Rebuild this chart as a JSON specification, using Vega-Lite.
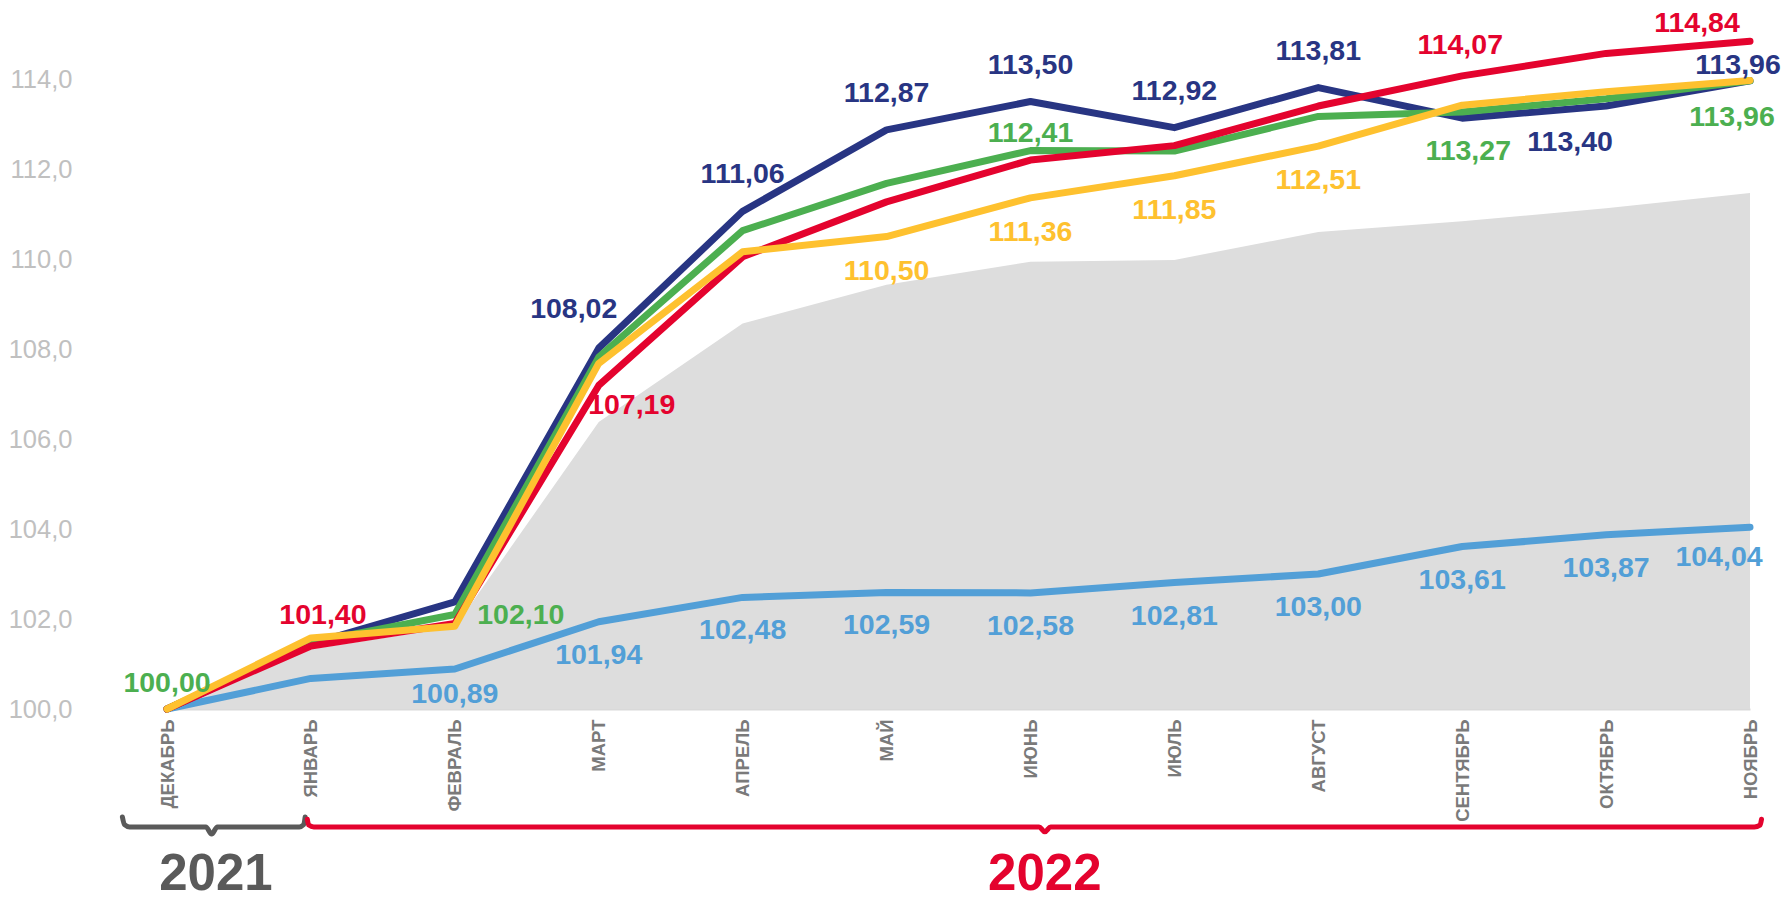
{
  "$schema": "https://vega.github.io/schema/vega-lite/v6.json",
  "width": 1688,
  "height": 697,
  "autosize": {"type": "none"},
  "padding": {"left": 97, "top": 12, "right": 0, "bottom": 194},
  "background": "white",
  "config": {"view": {"stroke": null}, "font": "Liberation Sans"},
  "datasets": {
    "vals": [
      {"month": "ДЕКАБРЬ", "series": "A", "value": 100.00},
      {"month": "ЯНВАРЬ", "series": "A", "value": 101.45},
      {"month": "ФЕВРАЛЬ", "series": "A", "value": 102.38},
      {"month": "МАРТ", "series": "A", "value": 108.02},
      {"month": "АПРЕЛЬ", "series": "A", "value": 111.06},
      {"month": "МАЙ", "series": "A", "value": 112.87},
      {"month": "ИЮНЬ", "series": "A", "value": 113.50},
      {"month": "ИЮЛЬ", "series": "A", "value": 112.92},
      {"month": "АВГУСТ", "series": "A", "value": 113.81},
      {"month": "СЕНТЯБРЬ", "series": "A", "value": 113.13},
      {"month": "ОКТЯБРЬ", "series": "A", "value": 113.40},
      {"month": "НОЯБРЬ", "series": "A", "value": 113.96},
      {"month": "ДЕКАБРЬ", "series": "B", "value": 100.00},
      {"month": "ЯНВАРЬ", "series": "B", "value": 101.48},
      {"month": "ФЕВРАЛЬ", "series": "B", "value": 102.10},
      {"month": "МАРТ", "series": "B", "value": 107.82},
      {"month": "АПРЕЛЬ", "series": "B", "value": 110.63},
      {"month": "МАЙ", "series": "B", "value": 111.68},
      {"month": "ИЮНЬ", "series": "B", "value": 112.41},
      {"month": "ИЮЛЬ", "series": "B", "value": 112.40},
      {"month": "АВГУСТ", "series": "B", "value": 113.17},
      {"month": "СЕНТЯБРЬ", "series": "B", "value": 113.27},
      {"month": "ОКТЯБРЬ", "series": "B", "value": 113.56},
      {"month": "НОЯБРЬ", "series": "B", "value": 113.96},
      {"month": "ДЕКАБРЬ", "series": "C", "value": 100.00},
      {"month": "ЯНВАРЬ", "series": "C", "value": 101.40},
      {"month": "ФЕВРАЛЬ", "series": "C", "value": 101.90},
      {"month": "МАРТ", "series": "C", "value": 107.19},
      {"month": "АПРЕЛЬ", "series": "C", "value": 110.05},
      {"month": "МАЙ", "series": "C", "value": 111.27},
      {"month": "ИЮНЬ", "series": "C", "value": 112.20},
      {"month": "ИЮЛЬ", "series": "C", "value": 112.52},
      {"month": "АВГУСТ", "series": "C", "value": 113.40},
      {"month": "СЕНТЯБРЬ", "series": "C", "value": 114.07},
      {"month": "ОКТЯБРЬ", "series": "C", "value": 114.57},
      {"month": "НОЯБРЬ", "series": "C", "value": 114.84},
      {"month": "ДЕКАБРЬ", "series": "D", "value": 100.00},
      {"month": "ЯНВАРЬ", "series": "D", "value": 101.58},
      {"month": "ФЕВРАЛЬ", "series": "D", "value": 101.84},
      {"month": "МАРТ", "series": "D", "value": 107.68},
      {"month": "АПРЕЛЬ", "series": "D", "value": 110.16},
      {"month": "МАЙ", "series": "D", "value": 110.50},
      {"month": "ИЮНЬ", "series": "D", "value": 111.36},
      {"month": "ИЮЛЬ", "series": "D", "value": 111.85},
      {"month": "АВГУСТ", "series": "D", "value": 112.51},
      {"month": "СЕНТЯБРЬ", "series": "D", "value": 113.42},
      {"month": "ОКТЯБРЬ", "series": "D", "value": 113.72},
      {"month": "НОЯБРЬ", "series": "D", "value": 113.97},
      {"month": "ДЕКАБРЬ", "series": "E", "value": 100.00},
      {"month": "ЯНВАРЬ", "series": "E", "value": 100.68},
      {"month": "ФЕВРАЛЬ", "series": "E", "value": 100.89},
      {"month": "МАРТ", "series": "E", "value": 101.94},
      {"month": "АПРЕЛЬ", "series": "E", "value": 102.48},
      {"month": "МАЙ", "series": "E", "value": 102.59},
      {"month": "ИЮНЬ", "series": "E", "value": 102.58},
      {"month": "ИЮЛЬ", "series": "E", "value": 102.81},
      {"month": "АВГУСТ", "series": "E", "value": 103.00},
      {"month": "СЕНТЯБРЬ", "series": "E", "value": 103.61},
      {"month": "ОКТЯБРЬ", "series": "E", "value": 103.87},
      {"month": "НОЯБРЬ", "series": "E", "value": 104.04},
      {"month": "ДЕКАБРЬ", "series": "F", "value": 100.00},
      {"month": "ЯНВАРЬ", "series": "F", "value": 101.33},
      {"month": "ФЕВРАЛЬ", "series": "F", "value": 101.82},
      {"month": "МАРТ", "series": "F", "value": 106.38},
      {"month": "АПРЕЛЬ", "series": "F", "value": 108.57},
      {"month": "МАЙ", "series": "F", "value": 109.43},
      {"month": "ИЮНЬ", "series": "F", "value": 109.94},
      {"month": "ИЮЛЬ", "series": "F", "value": 109.98},
      {"month": "АВГУСТ", "series": "F", "value": 110.60},
      {"month": "СЕНТЯБРЬ", "series": "F", "value": 110.84},
      {"month": "ОКТЯБРЬ", "series": "F", "value": 111.13},
      {"month": "НОЯБРЬ", "series": "F", "value": 111.47}
    ],
    "braces": [
      {"year": "2021", "ord": 1, "t": -0.31, "v": 97.60},
      {"year": "2021", "ord": 2, "t": -0.295, "v": 97.43},
      {"year": "2021", "ord": 3, "t": -0.26, "v": 97.38},
      {"year": "2021", "ord": 4, "t": 0.27, "v": 97.38},
      {"year": "2021", "ord": 5, "t": 0.31, "v": 97.22},
      {"year": "2021", "ord": 6, "t": 0.35, "v": 97.38},
      {"year": "2021", "ord": 7, "t": 0.92, "v": 97.38},
      {"year": "2021", "ord": 8, "t": 0.95, "v": 97.43},
      {"year": "2021", "ord": 9, "t": 0.96, "v": 97.60},
      {"year": "2022", "ord": 1, "t": 0.975, "v": 97.55},
      {"year": "2022", "ord": 2, "t": 0.985, "v": 97.42},
      {"year": "2022", "ord": 3, "t": 1.02, "v": 97.38},
      {"year": "2022", "ord": 4, "t": 6.06, "v": 97.38},
      {"year": "2022", "ord": 5, "t": 6.10, "v": 97.27},
      {"year": "2022", "ord": 6, "t": 6.14, "v": 97.38},
      {"year": "2022", "ord": 7, "t": 11.03, "v": 97.38},
      {"year": "2022", "ord": 8, "t": 11.07, "v": 97.42},
      {"year": "2022", "ord": 9, "t": 11.08, "v": 97.55}
    ],
    "years": [
      {"year": "2021", "t": 0.34, "v": 96.3},
      {"year": "2022", "t": 6.10, "v": 96.3}
    ]
  },
  "layer": [
    {
      "data": {"name": "vals"},
      "encoding": {
        "x": {
          "field": "month", "type": "ordinal",
          "scale": {"type": "point", "padding": 0, "domain": ["ДЕКАБРЬ","ЯНВАРЬ","ФЕВРАЛЬ","МАРТ","АПРЕЛЬ","МАЙ","ИЮНЬ","ИЮЛЬ","АВГУСТ","СЕНТЯБРЬ","ОКТЯБРЬ","НОЯБРЬ"], "range": [70, 1653]},
          "axis": {"title": null, "labelAngle": -90, "labelFont": "Liberation Sans", "labelFontWeight": "bold", "labelFontSize": 18.5, "labelColor": "#7a7a7a", "ticks": false, "domain": true, "domainColor": "#d9d9d9", "domainWidth": 2, "labelPadding": 10, "grid": false}
        },
        "y": {
          "field": "value", "type": "quantitative",
          "scale": {"domain": [100, 115.49], "nice": false, "zero": false},
          "axis": {"title": null, "values": [100,102,104,106,108,110,112,114], "labelExpr": "replace(format(datum.value, '.1f'), '.', ',')", "labelFont": "Liberation Sans", "labelFontSize": 25.5, "labelColor": "#c0c0c0", "grid": false, "ticks": false, "domain": false, "labelPadding": 25}
        }
      },
      "layer": [
        {"transform": [{"filter": "datum.series == 'F'"}], "mark": {"type": "area", "color": "#dddddd"}, "encoding": {"y2": {"datum": 100}}},
        {"transform": [{"filter": "datum.series == 'E'"}], "mark": {"type": "line", "color": "#529fd7", "strokeWidth": 7, "strokeCap": "round", "strokeJoin": "round"}},
        {"transform": [{"filter": "datum.series == 'A'"}], "mark": {"type": "line", "color": "#283583", "strokeWidth": 7, "strokeCap": "round", "strokeJoin": "round"}},
        {"transform": [{"filter": "datum.series == 'B'"}], "mark": {"type": "line", "color": "#4caf50", "strokeWidth": 7, "strokeCap": "round", "strokeJoin": "round"}},
        {"transform": [{"filter": "datum.series == 'C'"}], "mark": {"type": "line", "color": "#e4032e", "strokeWidth": 7, "strokeCap": "round", "strokeJoin": "round"}},
        {"transform": [{"filter": "datum.series == 'D'"}], "mark": {"type": "line", "color": "#fec12f", "strokeWidth": 7, "strokeCap": "round", "strokeJoin": "round"}},
        {"transform": [{"filter": "datum.series == 'A' && indexof(['АПРЕЛЬ','МАЙ','ИЮНЬ','ИЮЛЬ','АВГУСТ'], datum.month) >= 0"}, {"calculate": "replace(format(datum.value, '.2f'), '.', ',')", "as": "lbl"}],
         "mark": {"type": "text", "font": "Liberation Sans", "fontWeight": "bold", "fontSize": 28.5, "color": "#283583", "baseline": "middle", "dy": -37}, "encoding": {"text": {"field": "lbl"}}},
        {"transform": [{"filter": "datum.series == 'A' && datum.month == 'МАРТ'"}, {"calculate": "replace(format(datum.value, '.2f'), '.', ',')", "as": "lbl"}],
         "mark": {"type": "text", "font": "Liberation Sans", "fontWeight": "bold", "fontSize": 28.5, "color": "#283583", "baseline": "middle", "dx": -25, "dy": -39}, "encoding": {"text": {"field": "lbl"}}},
        {"transform": [{"filter": "datum.series == 'A' && datum.month == 'ОКТЯБРЬ'"}, {"calculate": "replace(format(datum.value, '.2f'), '.', ',')", "as": "lbl"}],
         "mark": {"type": "text", "font": "Liberation Sans", "fontWeight": "bold", "fontSize": 28.5, "color": "#283583", "baseline": "middle", "dx": -36, "dy": 36}, "encoding": {"text": {"field": "lbl"}}},
        {"transform": [{"filter": "datum.series == 'A' && datum.month == 'НОЯБРЬ'"}, {"calculate": "replace(format(datum.value, '.2f'), '.', ',')", "as": "lbl"}],
         "mark": {"type": "text", "font": "Liberation Sans", "fontWeight": "bold", "fontSize": 28.5, "color": "#283583", "baseline": "middle", "dx": -12, "dy": -16}, "encoding": {"text": {"field": "lbl"}}},
        {"transform": [{"filter": "datum.series == 'B' && datum.month == 'ДЕКАБРЬ'"}, {"calculate": "replace(format(datum.value, '.2f'), '.', ',')", "as": "lbl"}],
         "mark": {"type": "text", "font": "Liberation Sans", "fontWeight": "bold", "fontSize": 28.5, "color": "#4caf50", "baseline": "middle", "dy": -26}, "encoding": {"text": {"field": "lbl"}}},
        {"transform": [{"filter": "datum.series == 'B' && datum.month == 'ФЕВРАЛЬ'"}, {"calculate": "replace(format(datum.value, '.2f'), '.', ',')", "as": "lbl"}],
         "mark": {"type": "text", "font": "Liberation Sans", "fontWeight": "bold", "fontSize": 28.5, "color": "#4caf50", "baseline": "middle", "dx": 66, "dy": 0}, "encoding": {"text": {"field": "lbl"}}},
        {"transform": [{"filter": "datum.series == 'B' && datum.month == 'ИЮНЬ'"}, {"calculate": "replace(format(datum.value, '.2f'), '.', ',')", "as": "lbl"}],
         "mark": {"type": "text", "font": "Liberation Sans", "fontWeight": "bold", "fontSize": 28.5, "color": "#4caf50", "baseline": "middle", "dy": -18}, "encoding": {"text": {"field": "lbl"}}},
        {"transform": [{"filter": "datum.series == 'B' && datum.month == 'СЕНТЯБРЬ'"}, {"calculate": "replace(format(datum.value, '.2f'), '.', ',')", "as": "lbl"}],
         "mark": {"type": "text", "font": "Liberation Sans", "fontWeight": "bold", "fontSize": 28.5, "color": "#4caf50", "baseline": "middle", "dx": 6, "dy": 39}, "encoding": {"text": {"field": "lbl"}}},
        {"transform": [{"filter": "datum.series == 'B' && datum.month == 'НОЯБРЬ'"}, {"calculate": "replace(format(datum.value, '.2f'), '.', ',')", "as": "lbl"}],
         "mark": {"type": "text", "font": "Liberation Sans", "fontWeight": "bold", "fontSize": 28.5, "color": "#4caf50", "baseline": "middle", "dx": -18, "dy": 36}, "encoding": {"text": {"field": "lbl"}}},
        {"transform": [{"filter": "datum.series == 'C' && datum.month == 'ЯНВАРЬ'"}, {"calculate": "replace(format(datum.value, '.2f'), '.', ',')", "as": "lbl"}],
         "mark": {"type": "text", "font": "Liberation Sans", "fontWeight": "bold", "fontSize": 28.5, "color": "#e4032e", "baseline": "middle", "dx": 12, "dy": -31}, "encoding": {"text": {"field": "lbl"}}},
        {"transform": [{"filter": "datum.series == 'C' && datum.month == 'СЕНТЯБРЬ'"}, {"calculate": "replace(format(datum.value, '.2f'), '.', ',')", "as": "lbl"}],
         "mark": {"type": "text", "font": "Liberation Sans", "fontWeight": "bold", "fontSize": 28.5, "color": "#e4032e", "baseline": "middle", "dx": -2, "dy": -31}, "encoding": {"text": {"field": "lbl"}}},
        {"transform": [{"filter": "datum.series == 'C' && datum.month == 'МАРТ'"}, {"calculate": "replace(format(datum.value, '.2f'), '.', ',')", "as": "lbl"}],
         "mark": {"type": "text", "font": "Liberation Sans", "fontWeight": "bold", "fontSize": 28.5, "color": "#e4032e", "baseline": "middle", "dx": 33, "dy": 20}, "encoding": {"text": {"field": "lbl"}}},
        {"transform": [{"filter": "datum.series == 'C' && datum.month == 'НОЯБРЬ'"}, {"calculate": "replace(format(datum.value, '.2f'), '.', ',')", "as": "lbl"}],
         "mark": {"type": "text", "font": "Liberation Sans", "fontWeight": "bold", "fontSize": 28.5, "color": "#e4032e", "baseline": "middle", "dx": -53, "dy": -18}, "encoding": {"text": {"field": "lbl"}}},
        {"transform": [{"filter": "datum.series == 'D' && indexof(['МАЙ','ИЮНЬ','ИЮЛЬ','АВГУСТ'], datum.month) >= 0"}, {"calculate": "replace(format(datum.value, '.2f'), '.', ',')", "as": "lbl"}],
         "mark": {"type": "text", "font": "Liberation Sans", "fontWeight": "bold", "fontSize": 28.5, "color": "#fec12f", "baseline": "middle", "dy": 34}, "encoding": {"text": {"field": "lbl"}}},
        {"transform": [{"filter": "datum.series == 'E' && indexof(['МАРТ','АПРЕЛЬ','МАЙ','ИЮНЬ','ИЮЛЬ','АВГУСТ','СЕНТЯБРЬ','ОКТЯБРЬ'], datum.month) >= 0"}, {"calculate": "replace(format(datum.value, '.2f'), '.', ',')", "as": "lbl"}],
         "mark": {"type": "text", "font": "Liberation Sans", "fontWeight": "bold", "fontSize": 28.5, "color": "#529fd7", "baseline": "middle", "dy": 33}, "encoding": {"text": {"field": "lbl"}}},
        {"transform": [{"filter": "datum.series == 'E' && datum.month == 'ФЕВРАЛЬ'"}, {"calculate": "replace(format(datum.value, '.2f'), '.', ',')", "as": "lbl"}],
         "mark": {"type": "text", "font": "Liberation Sans", "fontWeight": "bold", "fontSize": 28.5, "color": "#529fd7", "baseline": "middle", "dy": 25}, "encoding": {"text": {"field": "lbl"}}},
        {"transform": [{"filter": "datum.series == 'E' && datum.month == 'НОЯБРЬ'"}, {"calculate": "replace(format(datum.value, '.2f'), '.', ',')", "as": "lbl"}],
         "mark": {"type": "text", "font": "Liberation Sans", "fontWeight": "bold", "fontSize": 28.5, "color": "#529fd7", "baseline": "middle", "dx": -31, "dy": 30}, "encoding": {"text": {"field": "lbl"}}}
      ]
    },
    {
      "layer": [
        {
          "data": {"name": "braces"},
          "mark": {"type": "line", "strokeWidth": 5, "strokeCap": "round", "strokeJoin": "round", "interpolate": "monotone"},
          "encoding": {
            "x": {"field": "t", "type": "quantitative", "scale": {"domain": [0, 11], "range": [70, 1653], "nice": false, "zero": false}, "axis": null},
            "y": {"field": "v", "type": "quantitative", "scale": {"domain": [100, 115.49], "nice": false, "zero": false}, "axis": null},
            "order": {"field": "ord"},
            "detail": {"field": "year"},
            "color": {"field": "year", "type": "nominal", "scale": {"domain": ["2021", "2022"], "range": ["#5a5a5a", "#e4032e"]}, "legend": null}
          }
        },
        {
          "data": {"name": "years"},
          "mark": {"type": "text", "font": "Liberation Sans", "fontWeight": "bold", "fontSize": 51, "baseline": "middle", "align": "center"},
          "encoding": {
            "x": {"field": "t", "type": "quantitative", "scale": {"domain": [0, 11], "range": [70, 1653], "nice": false, "zero": false}, "axis": null},
            "y": {"field": "v", "type": "quantitative", "scale": {"domain": [100, 115.49], "nice": false, "zero": false}, "axis": null},
            "text": {"field": "year"},
            "color": {"field": "year", "type": "nominal", "scale": {"domain": ["2021", "2022"], "range": ["#666666", "#e4032e"]}, "legend": null}
          }
        }
      ]
    }
  ],
  "resolve": {"scale": {"x": "independent", "y": "independent", "color": "independent"}}
}
